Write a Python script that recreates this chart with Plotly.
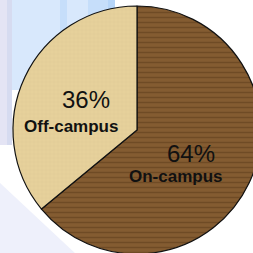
import plotly.graph_objects as go

# ---- data ----
labels = ["On-campus", "Off-campus"]
values = [64, 36]

# ---- style ----
W, H = 262, 255
base_colors = ["#845c31", "#e6d19b"]
grain_colors = ["#5a3a1a", "#cdb57c"]

def px(x):
    return x / W

def py(y):
    return 1 - y / H

fig = go.Figure()
fig.add_trace(go.Pie(
    labels=labels,
    values=values,
    sort=False,
    direction="clockwise",
    rotation=0,
    textinfo="none",
    hoverinfo="none",
    showlegend=False,
    domain=dict(x=[13 / W, 261 / W], y=[1 / H, 249 / H]),
    marker=dict(
        colors=base_colors,
        line=dict(color="#111111", width=1.2),
        pattern=dict(shape=["-", "+"], fgcolor=grain_colors, fillmode="overlay",
                     size=[5, 4], solidity=[0.3, 0.1], fgopacity=0.5),
    ),
))

shapes = []
def rect(x0, y0, x1, y1, color):
    shapes.append(dict(type="rect", xref="paper", yref="paper", layer="below",
                       x0=px(x0), x1=px(x1), y0=py(y1), y1=py(y0),
                       fillcolor=color, line=dict(width=0)))

rect(12, 0, 115, 90, "#d8e8fc")
rect(60, 0, 67, 90, "#c6defa")
rect(88, 0, 108, 90, "#c6defa")
rect(108, 0, 115, 90, "#b6d5f8")
rect(0, 0, 7, 145, "#e4e4f4")
rect(7, 0, 12, 145, "#d6dbf0")
shapes.append(dict(type="path", xref="paper", yref="paper", layer="below",
                   path=f"M {px(0)} {py(183)} L {px(77)} {py(255)} L {px(0)} {py(255)} Z",
                   fillcolor="#eef0fb", line=dict(width=0)))

# labels: percentage line + name line
pos = {
    "Off-campus": ((86, 100), (70.5, 126)),
    "On-campus": ((190.5, 153), (175.5, 176)),
}
ann = []
for lab, val in zip(labels, values):
    (x1, y1), (x2, y2) = pos[lab]
    ann.append(dict(x=px(x1), y=py(y1), xref="paper", yref="paper", showarrow=False,
                    text=f"{val}%", xanchor="center", yanchor="middle",
                    font=dict(family="Liberation Sans, Arial", size=24, color="#111111")))
    ann.append(dict(x=px(x2), y=py(y2), xref="paper", yref="paper", showarrow=False,
                    text=f"<b>{lab}</b>", xanchor="center", yanchor="middle",
                    font=dict(family="Liberation Sans, Arial", size=17, color="#111111")))

fig.update_layout(
    width=W, height=H,
    margin=dict(l=0, r=0, t=0, b=0),
    paper_bgcolor="#ffffff",
    plot_bgcolor="#ffffff",
    shapes=shapes,
    annotations=ann,
)

fig.write_html("out.html", config={"displayModeBar": False},
               post_script="document.body.style.margin='0';document.body.style.overflow='hidden';document.documentElement.style.overflow='hidden';")
